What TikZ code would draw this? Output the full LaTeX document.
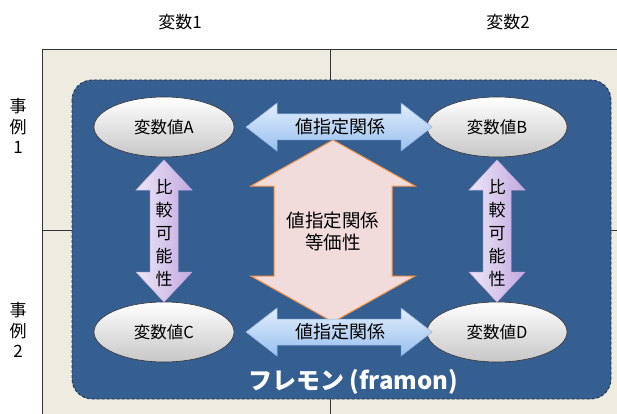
\documentclass[tikz,border=0pt]{standalone}
\usepackage{fontspec}
\setmainfont{Noto Sans CJK JP}
\usetikzlibrary{shapes.geometric}
\definecolor{bgbeige}{HTML}{EEEBE0}
\definecolor{framonblue}{HTML}{365F91}
\definecolor{framonedge}{HTML}{1E2F48}
\definecolor{arrblueA}{HTML}{E2EEFC}
\definecolor{arrblueB}{HTML}{98C0EF}
\definecolor{arrblueE}{HTML}{8DB3E2}
\definecolor{purpA}{HTML}{EDE6F7}
\definecolor{purpB}{HTML}{C2AADF}
\definecolor{pinkfill}{HTML}{F2DCDB}
\definecolor{orangeedge}{HTML}{F79646}
\tikzset{
  hdr/.style={font=\fontsize{17}{19}\selectfont},
  varval/.style={ellipse, draw=black!80, line width=0.6pt, minimum width=140pt, minimum height=60pt,
    top color=white, bottom color=black!22, font=\fontsize{16.5}{18}\selectfont, inner sep=0pt},
  harrow/.style={top color=arrblueA, bottom color=arrblueB, draw=arrblueE, line width=0.5pt},
  varrow/.style={left color=purpA, right color=purpB, draw=purpB, line width=0.5pt},
  bigarrow/.style={fill=pinkfill, draw=orangeedge, line width=1pt},
  lbl/.style={font=\fontsize{18}{20}\selectfont, inner sep=0pt},
  vlbl/.style={font=\fontsize{17}{23.2}\selectfont, align=center, inner sep=0pt},
}
\begin{document}
\begin{tikzpicture}[x=1pt,y=-1pt]
\useasboundingbox (0,0) rectangle (617,414);
% table
\fill[bgbeige] (42,49) rectangle (617,414);
\draw[black!80, line width=0.8pt] (617,49) -- (42,49) -- (42,414);
\draw[black!80, line width=0.8pt] (330,49) -- (330,414);
\draw[black!80, line width=0.8pt] (42,230) -- (617,230);
% headers
\node[hdr] (h1) at (180,22) {変数1};
\node[hdr] (h2) at (508,22) {変数2};
\node[hdr, align=center, font=\fontsize{17}{20.5}\selectfont] (r1) at (18,126) {事\\例\\1};
\node[hdr, align=center, font=\fontsize{17}{20.5}\selectfont] (r2) at (18,330) {事\\例\\2};
% framon box
\draw[framonedge, fill=framonblue, dash pattern=on 3pt off 2pt, line width=0.8pt, rounded corners=20pt] (72,80) rectangle (611,399);
% big central arrow
\draw[bigarrow] (333,140) -- (415,186) -- (392,186) -- (392,276) -- (415,276) -- (333,322)
   -- (251,276) -- (274,276) -- (274,186) -- (251,186) -- cycle;
\node[lbl, align=center, font=\fontsize{18.5}{22}\selectfont] (eq) at (333,231) {値指定関係\\等価性};
% ellipses
\node[varval] (A) at (164,127) {変数値A};
\node[varval] (B) at (497,127) {変数値B};
\node[varval] (C) at (164,332) {変数値C};
\node[varval] (D) at (497,332) {変数値D};
% horizontal arrows
\foreach \yy/\nm in {127/top,332/bot}{
  \draw[harrow] (246,\yy) -- (277,\yy-24) -- (277,\yy-13) -- (401,\yy-13) -- (401,\yy-24) -- (432,\yy)
    -- (401,\yy+24) -- (401,\yy+13) -- (277,\yy+13) -- (277,\yy+24) -- cycle;
  \node[lbl] (rel\nm) at (340,\yy) {値指定関係};
}
% vertical arrows
\foreach \xx/\nm in {164/left,497/right}{
  \draw[varrow] (\xx,160) -- (\xx+28,190) -- (\xx+14,190) -- (\xx+14,272) -- (\xx+28,272) -- (\xx,302)
    -- (\xx-28,272) -- (\xx-14,272) -- (\xx-14,190) -- (\xx-28,190) -- cycle;
  \node[vlbl] (cmp\nm) at (\xx,233) {比\\較\\可\\能\\性};
}
% framon label
\node[text=white, font=\fontsize{24}{26}\selectfont\bfseries] (fr) at (353,382) {フレモン (framon)};
\end{tikzpicture}
\end{document}
